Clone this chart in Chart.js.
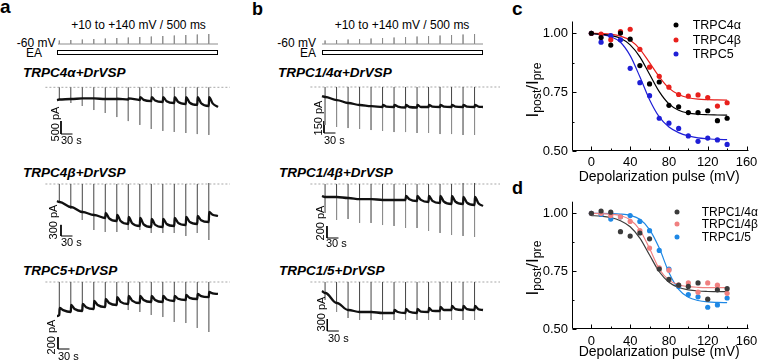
<!DOCTYPE html>
<html><head><meta charset="utf-8">
<script src="https://cdn.jsdelivr.net/npm/chart.js@4.4.1/dist/chart.umd.min.js"></script>
<style>
html,body{margin:0;padding:0;background:#fff}
body{width:759px;height:363px;position:relative;overflow:hidden;font-family:"Liberation Sans",Arial,Helvetica,sans-serif;color:#000}
.t{position:absolute;white-space:nowrap;line-height:1}
canvas{position:absolute}
.ea{position:absolute;border:1px solid #000;box-sizing:border-box;background:#fff}
.dot{position:absolute;width:5px;height:5px;border-radius:50%;transform:translate(-50%,-50%)}
sub{font-size:72%;vertical-align:-0.25em;line-height:0}
</style></head><body>
<script>
// ================= DATA =================
// Panels c / d : depolarization pulse (mV) vs I_post/I_pre
const doseX = [0,10,20,30,40,50,60,70,80,90,100,110,120,130,140];
const xTickVals = [0,40,80,120,160];
const yTickVals = [0.50,0.75,1.00];

const c_TRPC4a = [1.000,0.982,0.950,1.001,0.975,0.863,0.785,0.793,0.694,0.688,0.663,0.663,0.671,0.629,0.639];
const c_TRPC4b = [1.000,0.997,0.972,1.007,1.017,0.932,0.856,0.817,0.771,0.740,0.733,0.738,0.727,0.691,0.705];
const c_TRPC5  = [1.000,0.962,0.990,0.972,0.851,0.790,0.735,0.639,0.618,0.596,0.564,0.541,0.555,0.547,0.528];
const cFit_TRPC4a = [0.998,0.996,0.991,0.979,0.951,0.900,0.826,0.752,0.700,0.673,0.661,0.656,0.654,0.653,0.652];
const cFit_TRPC4b = [1.000,0.999,0.996,0.988,0.970,0.933,0.875,0.815,0.767,0.740,0.726,0.720,0.718,0.717,0.716];
const cFit_TRPC5  = [1.000,0.995,0.985,0.962,0.905,0.815,0.718,0.645,0.602,0.578,0.564,0.556,0.552,0.549,0.548];

const d_TRPC14a = [1.000,1.010,1.005,0.921,0.902,0.915,0.890,0.760,0.715,0.690,0.685,0.700,0.630,0.670,0.675];
const d_TRPC14b = [1.000,1.000,0.990,0.985,0.965,0.925,0.850,0.765,0.755,0.690,0.700,0.660,0.700,0.690,0.655];
const d_TRPC15  = [1.000,0.995,0.975,0.985,0.990,0.965,0.925,0.840,0.760,0.685,0.650,0.640,0.595,0.605,0.635];
const dFit_TRPC14a = [0.990,0.988,0.982,0.968,0.942,0.893,0.820,0.748,0.703,0.680,0.670,0.665,0.663,0.662,0.662];
const dFit_TRPC14b = [1.000,0.999,0.996,0.990,0.972,0.928,0.848,0.760,0.712,0.692,0.684,0.681,0.680,0.680,0.680];
const dFit_TRPC15  = [1.000,1.000,0.999,0.997,0.991,0.974,0.930,0.850,0.745,0.672,0.638,0.624,0.618,0.616,0.615];

// Panels a / b : voltage protocol and current traces (time in s, current in pA)
const pulseVoltages = [10,20,30,40,50,60,70,80,90,100,110,120,130,140];
const pulseTimesA = [6,36,66,96,126,156,186,216,246,276,306,336,366,396];
const pulseTimesB = [8,38,68,98,128,158,188,218,248,278,308,338,368,398];
const recordEnd = 420;

// TRPC4α+DrVSP  (pre: just before pulse, post: just after, mid: 10 s after, null = no visible decay)
const a1Start = -490, a1End = -760;
const a1Pre  = [-470,-450,-430,-430,-450,-450,-470,-490,-530,-565,-605,-645,-680,-720];
const a1Post = [-470,-450,-430,-430,-450,-440,-430,-375,-375,-375,-375,-375,-375,-375];
const a1Mid  = [null,null,null,null,null,null,null,-485,-510,-540,-565,-590,-615,-620];
const a1Peak = [0,0,0,0,0,0,0,0,0,0,0,0,0,0];
const a1Trough = [-490,-605,-720,-875,-990,-1145,-1300,-1450,-1605,-1680,-1720,-1760,-1800,-1835];
// TRPC4β+DrVSP
const a2Start = -459, a2End = -864;
const a2Pre  = [-486,-621,-756,-837,-918,-999,-1080,-1134,-1161,-1161,-1134,-1107,-1080,-1026];
const a2Post = [-486,-621,-756,-837,-783,-837,-891,-918,-945,-945,-918,-891,-864,-756];
const a2Mid  = [null,null,null,null,-930,-1000,-1060,-1090,-1100,-1080,-1050,-1025,-980,-830];
const a2Peak = [0,0,0,0,0,0,0,0,0,0,0,0,0,27];
const a2Trough = [-513,-675,-972,-1242,-1296,-1296,-1242,-1242,-1323,-1323,-1323,-1404,-1323,-1512];
// TRPC5+DrVSP
const a3Start = -568, a3End = -200;
const a3Pre  = [-551,-501,-484,-451,-418,-384,-367,-351,-334,-334,-317,-301,-284,-251];
const a3Post = [-434,-384,-367,-317,-284,-251,-234,-234,-234,-234,-234,-217,-200,-167];
const a3Mid  = [-470,-450,-420,-385,-350,-330,-310,-300,-300,-290,-280,-265,-235,-190];
const a3Peak = [0,0,0,0,0,0,0,0,0,0,0,0,0,0];
const a3Trough = [-551,-501,-484,-451,-418,-384,-468,-501,-551,-585,-668,-685,-768,-835];
// TRPC1/4α+DrVSP
const b1Start = -113, b1End = -250;
const b1Pre  = [-125,-163,-200,-225,-238,-250,-250,-256,-256,-250,-250,-250,-250,-250];
const b1Post = [-125,-163,-200,-225,-238,-225,-225,-225,-225,-225,-225,-225,-225,-225];
const b1Mid  = [null,null,null,null,null,-245,-245,-250,-250,-245,-245,-245,-245,-245];
const b1Peak = [0,0,0,0,0,0,0,0,0,0,0,0,0,0];
const b1Trough = [-475,-500,-513,-525,-538,-550,-563,-563,-575,-575,-588,-588,-600,-600];
// TRPC1/4β+DrVSP
const b2Start = -200, b2End = -367;
const b2Pre  = [-217,-217,-234,-251,-251,-267,-267,-267,-284,-301,-317,-334,-334,-351];
const b2Post = [-217,-217,-234,-251,-251,-267,-267,-200,-200,-200,-200,-200,-217,-217];
const b2Mid  = [null,null,null,null,null,null,null,-255,-265,-280,-295,-295,-310,-320];
const b2Peak = [0,0,0,0,0,0,0,0,0,0,0,0,17,17];
const b2Trough = [-484,-601,-585,-651,-651,-685,-701,-735,-735,-785,-818,-852,-868,-885];
// TRPC1/5+DrVSP
const b3Start = -225, b3End = -700;
const b3Pre  = [-275,-525,-700,-750,-750,-775,-775,-775,-775,-750,-725,-700,-700,-700];
const b3Post = [-275,-525,-700,-750,-750,-775,-700,-675,-675,-650,-625,-600,-600,-600];
const b3Mid  = [null,null,null,null,null,null,-750,-745,-740,-720,-700,-680,-680,-680];
const b3Peak = [0,0,0,0,0,0,0,0,0,0,0,0,0,0];
const b3Trough = [-450,-750,-900,-950,-950,-950,-950,-950,-950,-950,-950,-950,-950,-950];

// ================= RENDERING =================
Chart.defaults.font.family = '"Liberation Sans", Arial, Helvetica, sans-serif';
Chart.defaults.color = '#000';

function txt(html, x, y, css, anchor, rot) {
  const d = document.createElement('div');
  d.className = 't';
  d.innerHTML = html;
  d.style.left = x + 'px'; d.style.top = y + 'px';
  if (css) d.style.cssText += css;
  const tx = anchor === 'c' ? '-50%' : anchor === 'r' ? '-100%' : '0';
  d.style.transform = `translate(${tx},-50%)` + (rot ? ` rotate(${rot}deg)` : '');
  document.body.appendChild(d);
  return d;
}
function makeCanvas(left, top, w, h) {
  const c = document.createElement('canvas');
  c.width = w; c.height = h;
  c.style.left = left + 'px'; c.style.top = top + 'px';
  c.style.width = w + 'px'; c.style.height = h + 'px';
  document.body.appendChild(c);
  return c;
}
function bareOptions(xmin, xmax, ymin, ymax) {
  return {
    responsive: false, animation: false, events: [], devicePixelRatio: 1,
    layout: {padding: 0},
    plugins: {legend: {display: false}, tooltip: {enabled: false}},
    elements: {point: {radius: 0}, line: {tension: 0}},
    scales: {
      x: {type: 'linear', display: false, min: xmin, max: xmax},
      y: {type: 'linear', display: false, min: ymin, max: ymax}
    }
  };
}

const K = 0.3833; // px per second on the trace time axis
const panelA = {x0: 57, left: 45, width: 185, times: pulseTimesA};
const panelB = {x0: 322, left: 310, width: 190, times: pulseTimesB};

function traceChart(p, tr) {
  const tmin = (p.left - p.x0) / K, tmax = (p.left + p.width - p.x0) / K;
  const ymax = (tr.zero - tr.top) * tr.f, ymin = (tr.zero - tr.top - tr.h) * tr.f;
  const line = [{x: 0, y: tr.start}];
  p.times.forEach((t, i) => {
    line.push({x: t, y: tr.pre[i]});
    line.push({x: t + 1, y: tr.post[i]});
    if (tr.mid && tr.mid[i] !== null) line.push({x: t + 10, y: tr.mid[i]});
  });
  line.push({x: recordEnd, y: tr.end});
  const up = [], down = [];
  p.times.forEach((t, i) => {
    up.push({x: t, y: tr.pre[i]}, {x: t, y: tr.peak[i]}, {x: t, y: null});
    down.push({x: t, y: tr.pre[i]}, {x: t, y: tr.trough[i]}, {x: t, y: null});
  });
  const bar = [{x: tr.barT, y: tr.barY + tr.barPA}, {x: tr.barT, y: tr.barY}, {x: tr.barT + 30, y: tr.barY}];
  const cv = makeCanvas(p.left, tr.top, p.width, tr.h);
  new Chart(cv, {
    type: 'line',
    data: {datasets: [
      {data: line, borderColor: '#111', borderWidth: 2.3, cubicInterpolationMode: 'monotone'},
      {data: up, borderColor: '#444', borderWidth: 1},
      {data: down, borderColor: '#8c8c8c', borderWidth: 1},
      {data: bar, borderColor: '#000', borderWidth: 1},
      {data: [{x: tmin + 1, y: 0}, {x: tmax, y: 0}], borderColor: '#a8a8a8', borderWidth: 1, borderDash: [2, 2]}
    ]},
    options: bareOptions(tmin, tmax, ymin, ymax)
  });
}

function protocolChart(p, tStart) {
  const top = 30, h = 18, base = 44, mvPerPx = 20;
  const tmin = (p.left - p.x0) / K, tmax = (p.left + p.width - p.x0) / K;
  const ymax = -60 + (base - top) * mvPerPx, ymin = -60 - (top + h - base) * mvPerPx;
  const pts = [{x: tStart, y: -60}];
  p.times.forEach((t, i) => { pts.push({x: t, y: -60}, {x: t, y: pulseVoltages[i]}, {x: t, y: -60}); });
  pts.push({x: recordEnd, y: -60});
  const cv = makeCanvas(p.left, top, p.width, h);
  new Chart(cv, {type: 'line', data: {datasets: [{data: pts, borderColor: '#8c8c8c', borderWidth: 1}]},
    options: bareOptions(tmin, tmax, ymin, ymax)});
}

// ---- Panel letters
txt('a', 0, 6, 'font-size:19px;font-weight:bold;', 'l');
txt('b', 252, 8.5, 'font-size:18px;font-weight:bold;', 'l');
txt('c', 512, 7.6, 'font-size:19px;font-weight:bold;', 'l');
txt('d', 512, 187.5, 'font-size:18px;font-weight:bold;', 'l');

// ---- Protocols
const protoCss = 'font-size:12px;';
txt('+10 to +140 mV / 500 ms', 138.5, 25, protoCss, 'c');
txt('-60 mV', 55.5, 43, protoCss, 'r');
txt('EA', 42, 52.5, protoCss, 'r');
txt('+10 to +140 mV / 500 ms', 402, 25, protoCss, 'c');
txt('-60 mV', 316, 43, protoCss, 'r');
txt('EA', 316, 52.5, protoCss, 'r');
protocolChart(panelA, 2.6);
protocolChart(panelB, 0);
[[57, 161], [322, 161]].forEach(([l, w]) => {
  const e = document.createElement('div'); e.className = 'ea';
  e.style.left = l + 'px'; e.style.top = '50px'; e.style.width = w + 'px'; e.style.height = '5px';
  document.body.appendChild(e);
});

// ---- Trace titles
const ttl = 'font-size:13.5px;font-weight:bold;font-style:italic;';
txt('TRPC4α+DrVSP', 23, 73, ttl, 'l');
txt('TRPC4β+DrVSP', 23, 173, ttl, 'l');
txt('TRPC5+DrVSP', 23, 271, ttl, 'l');
txt('TRPC1/4α+DrVSP', 278, 73, ttl, 'l');
txt('TRPC1/4β+DrVSP', 279, 173, ttl, 'l');
txt('TRPC1/5+DrVSP', 279, 271, ttl, 'l');

// ---- Traces
traceChart(panelA, {zero: 87.3, f: 38.5, top: 80, h: 62, start: a1Start, end: a1End, pre: a1Pre, post: a1Post, mid: a1Mid, peak: a1Peak, trough: a1Trough, barT: 10.4, barY: -1798, barPA: 500});
traceChart(panelA, {zero: 184, f: 27, top: 176, h: 70, start: a2Start, end: a2End, pre: a2Pre, post: a2Post, mid: a2Mid, peak: a2Peak, trough: a2Trough, barT: 10.4, barY: -1404, barPA: 300});
traceChart(panelA, {zero: 282, f: 16.7, top: 274, h: 80, start: a3Start, end: a3End, pre: a3Pre, post: a3Post, mid: a3Mid, peak: a3Peak, trough: a3Trough, barT: 2.6, barY: -1119, barPA: 200});
traceChart(panelB, {zero: 87, f: 12.5, top: 80, h: 65, start: b1Start, end: b1End, pre: b1Pre, post: b1Post, mid: b1Mid, peak: b1Peak, trough: b1Trough, barT: 5.2, barY: -575, barPA: 150});
traceChart(panelB, {zero: 184, f: 16.7, top: 176, h: 70, start: b2Start, end: b2End, pre: b2Pre, post: b2Post, mid: b2Mid, peak: b2Peak, trough: b2Trough, barT: 13, barY: -902, barPA: 200});
traceChart(panelB, {zero: 282, f: 25, top: 274, h: 70, start: b3Start, end: b3End, pre: b3Pre, post: b3Post, mid: b3Mid, peak: b3Peak, trough: b3Trough, barT: 13.8, barY: -1225, barPA: 300});

// ---- Scale bar labels
const sb = 'font-size:11px;';
txt('500 pA', 55, 124, sb, 'c', -90);
txt('30 s', 61, 140, sb, 'l');
txt('300 pA', 53, 222, sb, 'c', -90);
txt('30 s', 61, 242, sb, 'l');
txt('200 pA', 51, 337, sb, 'c', -90);
txt('30 s', 58, 356, sb, 'l');
txt('150 pA', 318, 118, sb, 'c', -90);
txt('30 s', 324, 140, sb, 'l');
txt('200 pA', 320, 223, sb, 'c', -90);
txt('30 s', 326, 243, sb, 'l');
txt('300 pA', 321, 314, sb, 'c', -90);
txt('30 s', 328, 338, sb, 'l');

// ---- Dose-response charts
const inTicks = {
  id: 'inTicks',
  afterDraw(chart) {
    const {ctx, chartArea: ca, scales: {x, y}} = chart;
    ctx.save(); ctx.strokeStyle = '#000'; ctx.lineWidth = 1; ctx.beginPath();
    const L = Math.round(ca.left) + 0.5, B = Math.round(ca.bottom) - 0.5;
    ctx.moveTo(L, ca.top); ctx.lineTo(L, B); ctx.lineTo(ca.right + 2, B);
    xTickVals.forEach(v => { const p = Math.round(x.getPixelForValue(v)) + 0.5; ctx.moveTo(p, B); ctx.lineTo(p, B - 4); });
    [20, 60, 100, 140].forEach(v => { const p = Math.round(x.getPixelForValue(v)) + 0.5; ctx.moveTo(p, B); ctx.lineTo(p, B - 2); });
    yTickVals.forEach(v => { const p = Math.round(y.getPixelForValue(v)) + 0.5; ctx.moveTo(L, p); ctx.lineTo(L + 4, p); });
    [0.625, 0.875].forEach(v => { const p = Math.round(y.getPixelForValue(v)) + 0.5; ctx.moveTo(L, p); ctx.lineTo(L + 2, p); });
    ctx.stroke(); ctx.restore();
  }
};

function doseChart(cfg) {
  const cv = makeCanvas(cfg.left, cfg.top, cfg.w, cfg.h);
  const ds = [];
  cfg.series.forEach(s => ds.push({type: 'scatter', data: doseX.map((x, i) => ({x, y: s.pts[i]})),
    pointRadius: 2.6, pointBackgroundColor: s.color, pointBorderWidth: 0, showLine: false}));
  cfg.series.forEach(s => ds.push({type: 'line', data: doseX.map((x, i) => ({x, y: s.fit[i]})),
    borderColor: s.color, borderWidth: 1.2, pointRadius: 0, cubicInterpolationMode: 'monotone', fill: false}));
  new Chart(cv, {
    type: 'scatter',
    data: {datasets: ds},
    options: {
      responsive: false, animation: false, events: [], devicePixelRatio: 1,
      layout: {padding: {top: cfg.padTop, right: cfg.padRight, left: 0, bottom: 0}},
      plugins: {legend: {display: false}, tooltip: {enabled: false}},
      scales: {
        x: {type: 'linear', min: -20, max: 160,
          grid: {display: false, drawTicks: false}, border: {display: false},
          afterBuildTicks: s => { s.ticks = xTickVals.map(v => ({value: v})); },
          afterFit: s => { s.height = cfg.xAxisH; s.paddingLeft = 0; s.paddingRight = 0; },
          ticks: {padding: 4, font: {size: 13}, color: '#000', maxRotation: 0, autoSkip: false},
          title: {display: true, text: 'Depolarization pulse (mV)', font: {size: 14}, color: '#000', padding: {top: 0, bottom: cfg.titlePad}}},
        y: {type: 'linear', min: 0.5, max: 1.05,
          grid: {display: false, drawTicks: false}, border: {display: false},
          afterBuildTicks: s => { s.ticks = yTickVals.map(v => ({value: v})); },
          afterFit: s => { s.width = 72; s.paddingTop = 0; s.paddingBottom = 0; },
          ticks: {padding: 4, font: {size: 13}, color: '#000', callback: v => v.toFixed(2)}}
      }
    },
    plugins: [inTicks]
  });
}

doseChart({left: 500, top: 0, w: 259, h: 190, padTop: 21.5, padRight: 12.5, xAxisH: 39, titlePad: 4.6,
  series: [
    {pts: c_TRPC4a, fit: cFit_TRPC4a, color: '#000000'},
    {pts: c_TRPC4b, fit: cFit_TRPC4b, color: '#e8201c'},
    {pts: c_TRPC5, fit: cFit_TRPC5, color: '#1f1fd6'}
  ]});
doseChart({left: 500, top: 185, w: 259, h: 178, padTop: 16.7, padRight: 12.5, xAxisH: 33.7, titlePad: 2.6,
  series: [
    {pts: d_TRPC14a, fit: dFit_TRPC14a, color: '#3b3b3b'},
    {pts: d_TRPC14b, fit: dFit_TRPC14b, color: '#f08080'},
    {pts: d_TRPC15, fit: dFit_TRPC15, color: '#1e88e5'}
  ]});

// y-axis titles
const yt = 'font-size:17px;';
txt('I<sub>post</sub>/I<sub>pre</sub>', 532, 90, yt, 'c', -90);
txt('I<sub>post</sub>/I<sub>pre</sub>', 532, 268, yt, 'c', -90);

// legends
function legend(items, dotX, textX, ys, size) {
  items.forEach((it, i) => {
    const d = document.createElement('div'); d.className = 'dot';
    d.style.left = dotX + 'px'; d.style.top = ys[i] + 'px'; d.style.background = it[1];
    document.body.appendChild(d);
    txt(it[0], textX, ys[i], 'font-size:' + size + 'px;', 'l');
  });
}
legend([['TRPC4α', '#000000'], ['TRPC4β', '#e8201c'], ['TRPC5', '#1f1fd6']], 675.7, 692.7, [25, 40, 54], 12.5);
legend([['TRPC1/4α', '#3b3b3b'], ['TRPC1/4β', '#f08080'], ['TRPC1/5', '#1e88e5']], 676.7, 701.7, [211.7, 224.3, 236.7], 12);
</script>
</body></html>
